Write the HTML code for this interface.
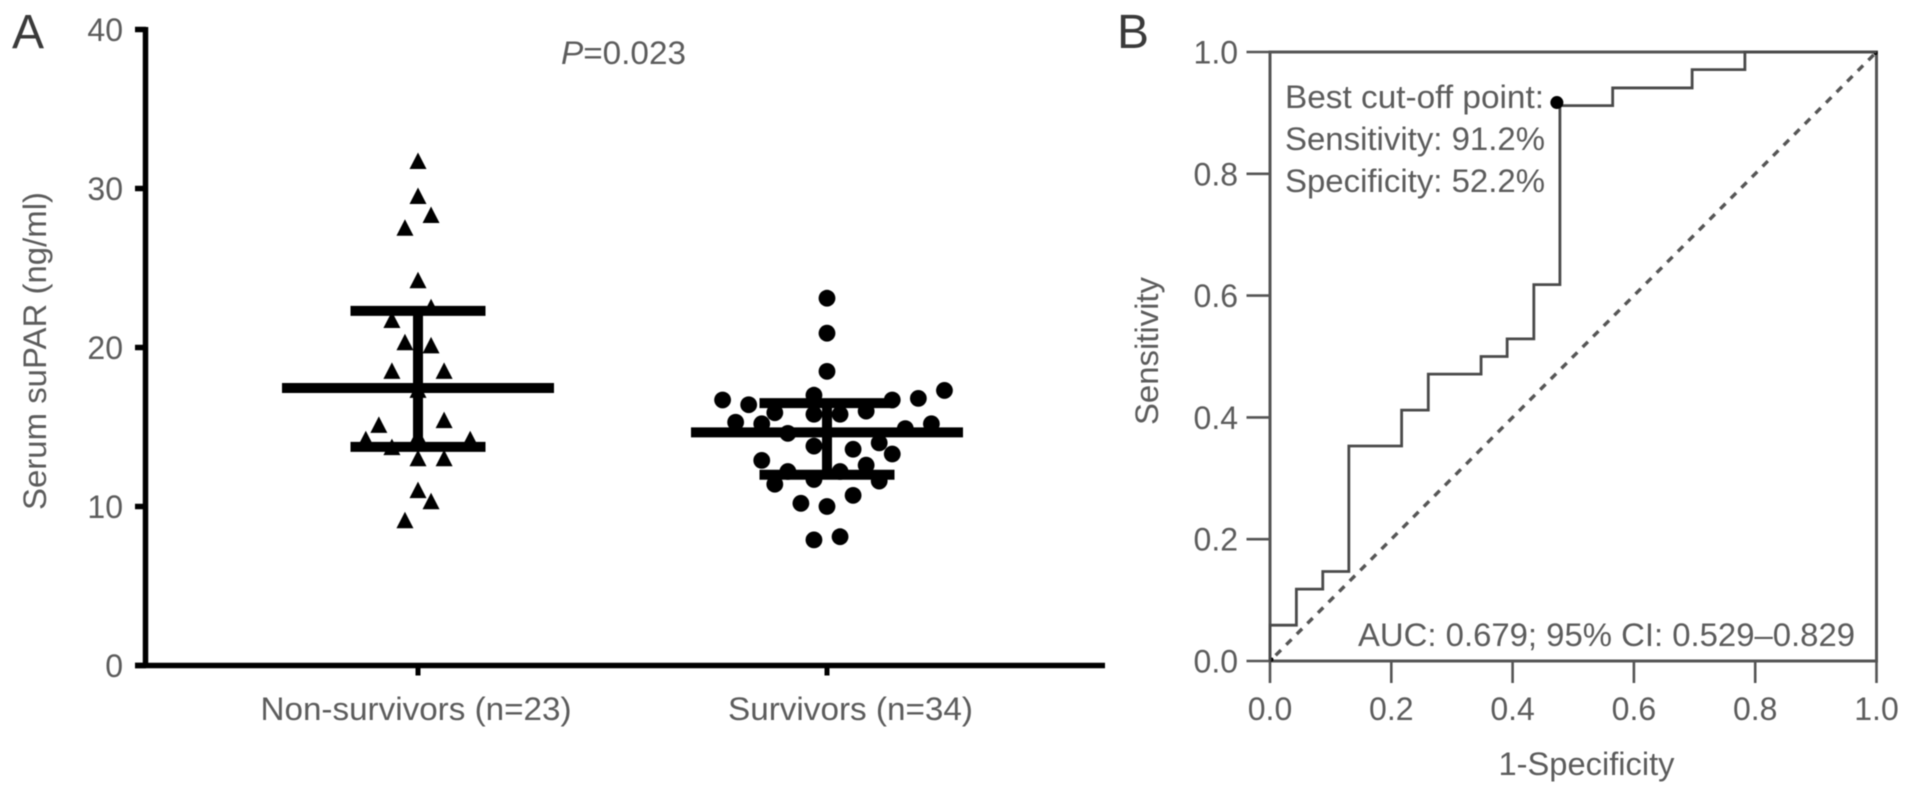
<!DOCTYPE html>
<html lang="en">
<head>
<meta charset="utf-8">
<title>Serum suPAR and ROC curve</title>
<style>
html,body{margin:0;padding:0;background:#fff;}
body{width:1913px;height:795px;overflow:hidden;}
svg{display:block;filter:blur(0.55px);}
text{font-family:"Liberation Sans",Arial,sans-serif;fill:#5c5c5c;font-size:32px;}
</style>
</head>
<body>
<svg id="figure" xmlns="http://www.w3.org/2000/svg" width="1913" height="795" viewBox="0 0 1913 795">
  <rect width="1913" height="795" fill="#fff"/>
  <g id="panel-a">
    <text x="12" y="48" style="font-size:48px;fill:#3a3a3a">A</text>
    <text transform="translate(46,510) rotate(-90)" textLength="318" lengthAdjust="spacingAndGlyphs">Serum suPAR (ng/ml)</text>
    <text x="561" y="64" textLength="125" lengthAdjust="spacingAndGlyphs"><tspan font-style="italic">P</tspan>=0.023</text>
    <line x1="145.5" y1="27" x2="145.5" y2="668" stroke="#000" stroke-width="5.5"/>
    <line x1="135" y1="665.5" x2="1105" y2="665.5" stroke="#000" stroke-width="5.5"/>
  </g>
  <g id="panel-b">
    <text x="1117" y="48" style="font-size:48px;fill:#3a3a3a">B</text>
    <text transform="translate(1158,425) rotate(-90)" textLength="148" lengthAdjust="spacingAndGlyphs">Sensitivity</text>
    <text x="1498.5" y="775" textLength="176" lengthAdjust="spacingAndGlyphs">1-Specificity</text>
    <rect x="1270" y="52" width="606.5" height="609" fill="none" stroke="#555" stroke-width="3"/>
    <text x="1285" y="108" textLength="259" lengthAdjust="spacingAndGlyphs">Best cut-off point:</text>
    <text x="1285" y="150" textLength="260" lengthAdjust="spacingAndGlyphs">Sensitivity: 91.2%</text>
    <text x="1285" y="192" textLength="260" lengthAdjust="spacingAndGlyphs">Specificity: 52.2%</text>
    <text x="1358" y="646" textLength="497" lengthAdjust="spacingAndGlyphs">AUC: 0.679; 95% CI: 0.529–0.829</text>
  </g>
</svg>
<script>
// ---------- Panel A data ----------
const categories = ["Non-survivors (n=23)", "Survivors (n=34)"];
const yTicksA = [0, 10, 20, 30, 40];
const nonSurvivorValues = [31.7, 29.5, 28.3, 27.5, 24.2, 22.5, 21.7, 20.3, 20.1, 18.5, 18.5, 17.3, 15.4, 15.1, 14.4, 14.2, 14.2, 13.7, 13.0, 13.0, 11.0, 10.3, 9.1];
const nonSurvivorSlots = [0, 0, 1, -1, 0, 1, -2, -1, 1, -2, 2, 0, 2, -3, 0, -4, 4, -2, 0, 2, 0, 1, -1];
const survivorValues = [23.1, 20.9, 18.5, 16.7, 16.4, 17.0, 16.7, 16.8, 17.3, 15.9, 15.8, 15.8, 16.0, 15.3, 15.2, 14.9, 15.2, 14.6, 13.8, 13.6, 14.0, 13.3, 12.9, 12.2, 12.6, 12.2, 11.4, 11.7, 11.6, 10.7, 10.2, 10.0, 7.9, 8.1];
const survivorSlots = [0, 0, 0, -8, -6, -1, 5, 7, 9, -4, -1, 1, 3, -7, -5, 6, 8, -3, -1, 2, 4, 5, -5, -3, 3, 1, -4, -1, 4, 2, -2, 0, -1, 1];
const groupMeans = [17.45, 14.66];
const groupUpper = [22.3, 16.5];
const groupLower = [13.75, 12.0];

// ---------- Panel B data ----------
const rocFpr = [0, 0.0435, 0.087, 0.130, 0.217, 0.261, 0.348, 0.391, 0.435, 0.478, 0.565, 0.696, 0.783, 1];
const rocTpr = [0.0588, 0.118, 0.147, 0.353, 0.412, 0.471, 0.5, 0.529, 0.618, 0.912, 0.941, 0.971, 1, 1];
const bestCutFpr = [0.473];
const bestCutTpr = [0.917];
const ticksB = [0, 0.2, 0.4, 0.6, 0.8, 1];
const cornerDots = [0, 1];

// ---------- Axis functions ----------
const yA = v => 665.5 - v * 15.9;
const xA = i => 418 + i * 409;
const slotStep = 13.05;
const xB = v => 1270 + v * 606.5;
const yB = v => 661 - v * 609;

const NS = "http://www.w3.org/2000/svg";
function make(parent, tag, attrs, txt) {
  const el = document.createElementNS(NS, tag);
  for (const k in attrs) el.setAttribute(k, attrs[k]);
  if (txt !== undefined) el.textContent = txt;
  parent.appendChild(el);
  return el;
}
const panelA = document.getElementById("panel-a");
const panelB = document.getElementById("panel-b");

// Panel A ticks
yTicksA.forEach(v => {
  const t = make(panelA, "line", {x1: 135, x2: 146, y1: yA(v), y2: yA(v), stroke: "#000", "stroke-width": 5.5});
  
  
  const l = make(panelA, "text", {x: 123, y: yA(v) + 11.5, "text-anchor": "end"}, String(v));
  
  
});
const catLabelShift = [-2, 23.5];
const catLabelWidth = [311, 245];
categories.forEach((c, i) => {
  const t = make(panelA, "line", {x1: xA(i), x2: xA(i), y1: 665, y2: 675.5, stroke: "#000", "stroke-width": 5});
  
  
  const l = make(panelA, "text", {x: xA(i) + catLabelShift[i] - catLabelWidth[i] / 2, y: 720, textLength: catLabelWidth[i], lengthAdjust: "spacingAndGlyphs"}, c);
  
  
});

// Panel A points
nonSurvivorValues.forEach((v, i) => {
  const cx = xA(0) + nonSurvivorSlots[i] * slotStep;
  const cy = yA(v);
  const p = make(panelA, "polygon", {points: `${cx},${cy - 9} ${cx - 8.5},${cy + 7.5} ${cx + 8.5},${cy + 7.5}`, fill: "#000"});
  
  
});
survivorValues.forEach((v, i) => {
  const p = make(panelA, "circle", {cx: xA(1) + survivorSlots[i] * slotStep, cy: yA(v), r: 8.4, fill: "#000"});
  
  
});

// Panel A mean and error bars
groupMeans.forEach((m, i) => {
  const cx = xA(i);
  const stem = make(panelA, "line", {x1: cx, x2: cx, y1: yA(groupUpper[i]), y2: yA(groupLower[i]), stroke: "#000", "stroke-width": 10});
  
  
  const mean = make(panelA, "line", {x1: cx - 136, x2: cx + 136, y1: yA(m), y2: yA(m), stroke: "#000", "stroke-width": 10});
  
  
  const up = make(panelA, "line", {x1: cx - 67.5, x2: cx + 67.5, y1: yA(groupUpper[i]), y2: yA(groupUpper[i]), stroke: "#000", "stroke-width": 10});
  
  
  const low = make(panelA, "line", {x1: cx - 67.5, x2: cx + 67.5, y1: yA(groupLower[i]), y2: yA(groupLower[i]), stroke: "#000", "stroke-width": 10});
  
  
});

// Panel B ticks
ticksB.forEach(v => {
  const ty = make(panelB, "line", {x1: 1246.5, x2: 1270, y1: yB(v), y2: yB(v), stroke: "#555", "stroke-width": 2.6});
  
  
  const ly = make(panelB, "text", {x: 1238, y: yB(v) + 11.5, "text-anchor": "end"}, v.toFixed(1));
  
  
  const tx = make(panelB, "line", {x1: xB(v), x2: xB(v), y1: 661, y2: 683, stroke: "#555", "stroke-width": 2.6});
  
  
  const lx = make(panelB, "text", {x: xB(v), y: 720, "text-anchor": "middle"}, v.toFixed(1));
  
  
});

// Panel B reference diagonal
const diagonal = make(panelB, "line", {x1: xB(0), y1: yB(0), x2: xB(1), y2: yB(1), stroke: "#555", "stroke-width": 3.4, "stroke-dasharray": "7.5 7.5", "stroke-dashoffset": "-8"});


cornerDots.forEach(v => {
  const dot = make(panelB, "circle", {cx: xB(v) + (v ? -1 : 1.5), cy: yB(v) + (v ? 1 : -1.5), r: 2, fill: "#000"});
  
  
});

// Panel B ROC step curve
let d = `M${xB(0)},${yB(0)}`;
rocFpr.forEach((f, i) => {
  d += ` L${xB(f)},${yB(rocTpr[i])}`;
  if (i < rocFpr.length - 1) d += ` L${xB(rocFpr[i + 1])},${yB(rocTpr[i])}`;
});
const curve = make(panelB, "path", {d: d, fill: "none", stroke: "#4a4a4a", "stroke-width": 2.8});



const marker = make(panelB, "circle", {cx: xB(bestCutFpr[0]), cy: yB(bestCutTpr[0]), r: 6.5, fill: "#000"});


</script>
</body>
</html>
